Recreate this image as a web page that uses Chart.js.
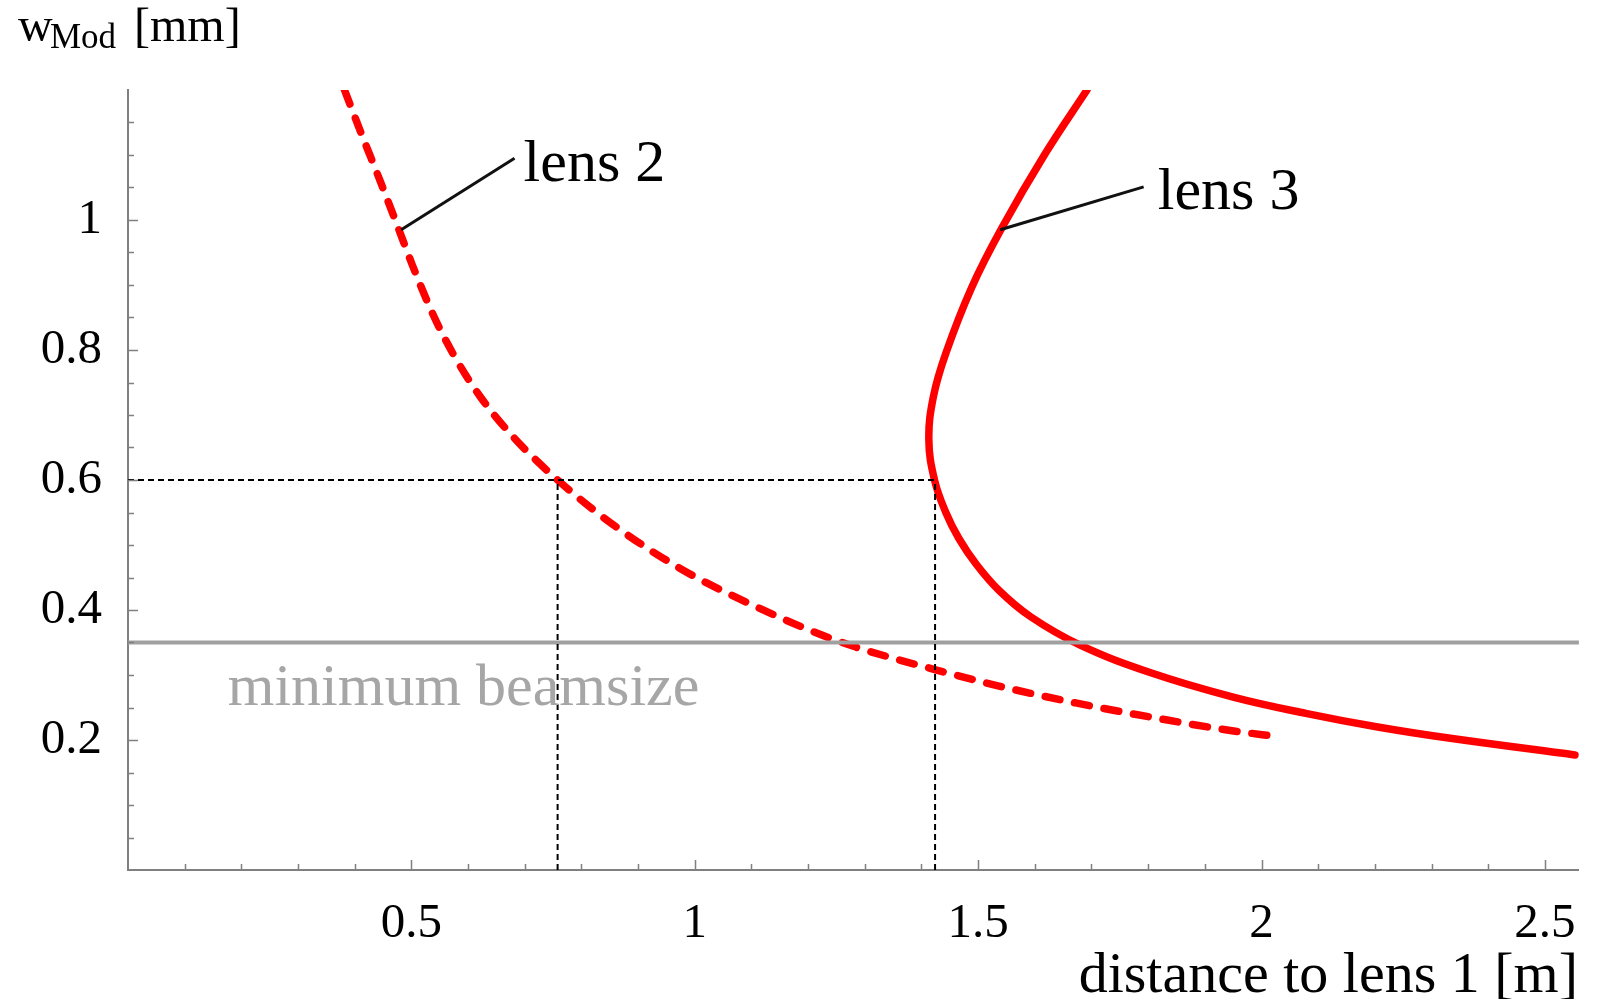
<!DOCTYPE html>
<html>
<head>
<meta charset="utf-8">
<title>w_Mod vs distance to lens 1</title>
<script src="https://cdn.jsdelivr.net/npm/chart.js@4.4.1/dist/chart.umd.min.js"></script>
<style>
  html, body { margin: 0; padding: 0; background: #fff; }
  #wrap { width: 1601px; height: 999px; }
</style>
</head>
<body>
<div id="wrap"><canvas id="beamChart" width="1601" height="999"></canvas></div>
<script>
// beam radius at the modulator [mm] vs. distance to lens 1 [m]
const lens2X = [0.382, 0.413, 0.444, 0.478, 0.502, 0.538, 0.573, 0.620, 0.679, 0.758, 0.861, 0.978, 1.096, 1.214, 1.284, 1.425, 1.537, 1.672, 1.806, 1.942, 2.030];
const lens2Y = [1.200, 1.130, 1.062, 0.985, 0.930, 0.855, 0.795, 0.730, 0.667, 0.600, 0.528, 0.462, 0.410, 0.365, 0.343, 0.308, 0.283, 0.257, 0.235, 0.215, 0.205];

// lens 3 folds back on itself, so it is listed top to bottom
const lens3X = [1.692, 1.619, 1.542, 1.489, 1.443, 1.421, 1.413, 1.423, 1.443, 1.466, 1.497, 1.537, 1.592, 1.680, 1.806, 1.950, 2.078, 2.205, 2.330, 2.553];
const lens3Y = [1.200, 1.103, 0.988, 0.897, 0.795, 0.728, 0.662, 0.600, 0.550, 0.510, 0.470, 0.430, 0.390, 0.346, 0.303, 0.266, 0.241, 0.220, 0.203, 0.177];

const minBeamsize = 0.35;
const workY = 0.6;
const workX = [0.758, 1.424];

const xTicks = [0.5, 1, 1.5, 2, 2.5];
const yTicks = [0.2, 0.4, 0.6, 0.8, 1];
const xMax = 2.56;
const yMax = 1.2;

const serif = "'Liberation Serif', 'Times New Roman', serif";
const axisGray = '#808080';

const toPoints = (xs, ys) => xs.map((v, i) => ({ x: v, y: ys[i] }));

// thin leader lines from the curve to its label
const leader2 = [{ x: 0.482, y: 0.985 }, { x: 0.682, y: 1.095 }];
const leader3 = [{ x: 1.539, y: 0.985 }, { x: 1.792, y: 1.051 }];

const plain = { showLine: true, pointRadius: 0, fill: false, tension: 0 };
const guide = { ...plain, order: 0, borderColor: '#000', borderWidth: 2, borderDash: [6, 4] };

// inward minor/major ticks, labels and axis titles
const decor = {
  id: 'decor',
  afterDraw(chart) {
    const { ctx, chartArea: area, scales: { x, y } } = chart;
    ctx.save();
    ctx.strokeStyle = axisGray;
    ctx.lineWidth = 1.5;
    ctx.beginPath();
    for (let i = 1; i <= 25; i++) {
      const px = Math.round(x.getPixelForValue(i / 10)) + 0.5;
      const len = i % 5 === 0 ? 10 : 6;
      ctx.moveTo(px, area.bottom);
      ctx.lineTo(px, area.bottom - len);
    }
    for (let i = 1; i <= 23; i++) {
      const py = Math.round(y.getPixelForValue(i * 0.05)) + 0.5;
      const len = i % 4 === 0 ? 10 : 6;
      ctx.moveTo(area.left, py);
      ctx.lineTo(area.left + len, py);
    }
    ctx.stroke();

    ctx.textBaseline = 'alphabetic';
    ctx.textAlign = 'left';
    ctx.fillStyle = '#000';
    ctx.font = `60px ${serif}`;
    ctx.fillText('lens 2', x.getPixelForValue(0.698), y.getPixelForValue(1.06));
    ctx.fillText('lens 3', x.getPixelForValue(1.817), y.getPixelForValue(1.017));

    ctx.fillStyle = '#a6a6a6';
    ctx.fillText('minimum beamsize', x.getPixelForValue(0.176), y.getPixelForValue(0.254));

    // axis titles
    ctx.fillStyle = '#000';
    ctx.font = `48px ${serif}`;
    ctx.fillText('w', 18, 41);
    ctx.font = `35px ${serif}`;
    ctx.fillText('Mod', 50, 48);
    ctx.font = `48px ${serif}`;
    ctx.fillText('[mm]', 134, 41);

    ctx.font = `58px ${serif}`;
    ctx.textAlign = 'right';
    ctx.fillText('distance to lens 1 [m]', 1578, 992);
    ctx.restore();
  }
};

new Chart(document.getElementById('beamChart'), {
  type: 'scatter',
  data: {
    datasets: [
      { ...guide, data: [{ x: 0, y: workY }, { x: workX[1], y: workY }] },
      { ...guide, data: [{ x: workX[0], y: 0 }, { x: workX[0], y: workY }] },
      { ...guide, data: [{ x: workX[1], y: 0 }, { x: workX[1], y: workY }] },
      { ...plain, order: 0, data: [{ x: 0, y: minBeamsize }, { x: xMax, y: minBeamsize }],
        borderColor: '#a0a0a0', borderWidth: 4 },
      { ...plain, order: 0, data: leader2, borderColor: '#111', borderWidth: 3 },
      { ...plain, order: 0, data: leader3, borderColor: '#111', borderWidth: 3 },
      { ...plain, order: 1, label: 'lens 2', data: toPoints(lens2X, lens2Y),
        borderColor: '#ff0000', borderWidth: 7.5, borderDash: [15, 15],
        borderCapStyle: 'round', cubicInterpolationMode: 'monotone' },
      { ...plain, order: 1, label: 'lens 3', data: toPoints(lens3X, lens3Y),
        tension: 0.4, borderColor: '#ff0000', borderWidth: 7.5, borderCapStyle: 'round' }
    ]
  },
  options: {
    responsive: false,
    animation: false,
    devicePixelRatio: 1,
    layout: { padding: { top: 90, right: 20, left: 0, bottom: 0 } },
    plugins: { legend: { display: false }, tooltip: { enabled: false } },
    scales: {
      x: {
        type: 'linear', min: 0, max: xMax,
        afterBuildTicks: s => { s.ticks = xTicks.map(v => ({ value: v })); },
        afterFit: s => { s.height = 129; },
        grid: { drawOnChartArea: false, drawTicks: false },
        border: { color: axisGray, width: 2 },
        ticks: { padding: 25, color: '#000', font: { family: serif, size: 49 },
                 maxRotation: 0, autoSkip: false, callback: v => String(v) }
      },
      y: {
        type: 'linear', min: 0, max: yMax,
        afterBuildTicks: s => { s.ticks = yTicks.map(v => ({ value: v })); },
        afterFit: s => { s.width = 128; },
        grid: { drawOnChartArea: false, drawTicks: false },
        border: { color: axisGray, width: 2 },
        ticks: { padding: 26, color: '#000', font: { family: serif, size: 49 },
                 autoSkip: false, callback: v => String(v) }
      }
    }
  },
  plugins: [decor]
});
</script>
</body>
</html>
